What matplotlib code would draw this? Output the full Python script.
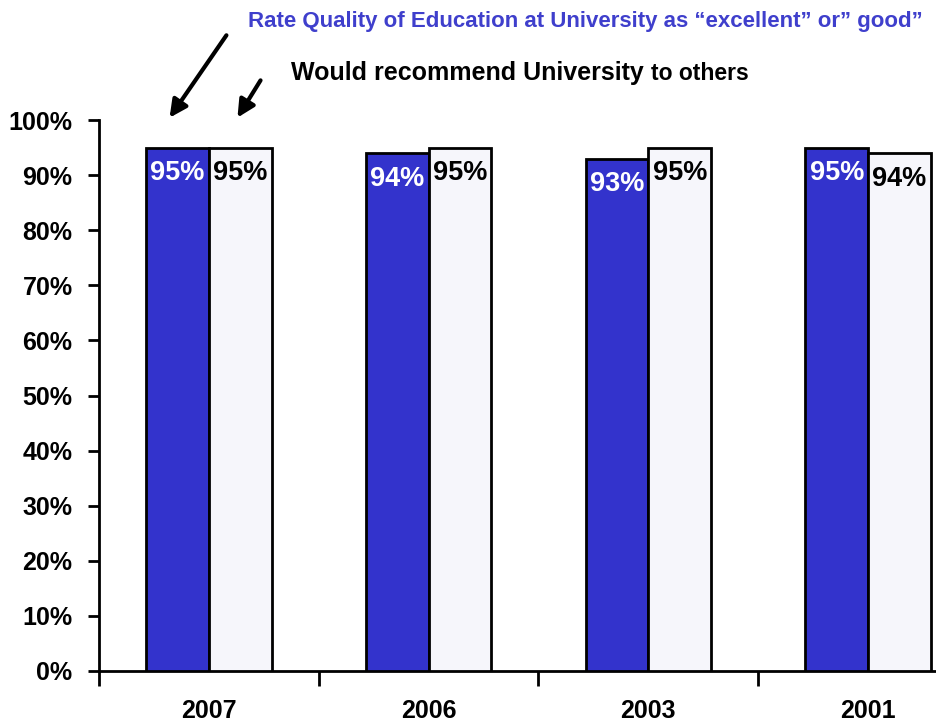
import matplotlib
matplotlib.use("Agg")
import matplotlib.pyplot as plt
from matplotlib.patches import FancyArrowPatch
import numpy as np

categories = ['2007', '2006', '2003', '2001']
quality = [95, 94, 93, 95]
recommend = [95, 95, 95, 94]
yticks = [0, 10, 20, 30, 40, 50, 60, 70, 80, 90, 100]

plt.rcParams['font.family'] = ['Liberation Sans', 'DejaVu Sans']
plt.rcParams['font.weight'] = 'bold'

W, H = 937, 723
fig = plt.figure(figsize=(W / 100, H / 100), dpi=100)
ax = fig.add_axes([99 / W, 52 / H, 879 / W, 551 / H])

blue = '#3333CC'
white = '#F6F6FB'
bw = 0.285
x = np.arange(len(categories)) + 0.5
b1 = ax.bar(x - bw, quality, width=bw, align='edge', color=blue,
            edgecolor='black', linewidth=2, zorder=3)
b2 = ax.bar(x, recommend, width=bw, align='edge', color=white,
            edgecolor='black', linewidth=2, zorder=3)

for rect, v in zip(b1, quality):
    ax.annotate(f'{v}%', (rect.get_x() + rect.get_width() / 2, v),
                xytext=(0, -18.5), textcoords='offset points',
                ha='center', va='center', color='white',
                fontsize=19.5, fontweight='bold', zorder=4)
for rect, v in zip(b2, recommend):
    ax.annotate(f'{v}%', (rect.get_x() + rect.get_width() / 2, v),
                xytext=(0, -18.5), textcoords='offset points',
                ha='center', va='center', color='black',
                fontsize=19.5, fontweight='bold', zorder=4)

ax.set_xlim(0, 4)
ax.set_ylim(0, 100)
ax.set_yticks(yticks)
ax.set_yticklabels([f'{t}%' for t in yticks])
ax.set_xticks(x)
ax.set_xticklabels(categories)
ax.set_xticks(np.arange(0, 5), minor=True)
ax.tick_params(axis='x', which='major', length=0, pad=20, labelsize=18)
ax.tick_params(axis='x', which='minor', length=11, width=2, direction='out')
ax.tick_params(axis='y', length=8, width=2, direction='out', pad=11, labelsize=18)

for s in ['top', 'right']:
    ax.spines[s].set_visible(False)
for s in ['left', 'bottom']:
    ax.spines[s].set_linewidth(2)

fig.text(248 / W, 1 - 22 / H,
         'Rate Quality of Education at University as \u201cexcellent\u201d or\u201d good\u201d',
         color='#3F3FCC', fontsize=16, fontweight='bold', ha='left', va='center')
t1 = fig.text(291 / W, 1 - 73 / H, 'Would recommend University ',
              color='black', fontsize=18, fontweight='bold', ha='left', va='center')
fig.canvas.draw()
bb = t1.get_window_extent()
fig.text(bb.x1 / W, 1 - 74 / H, 'to others', color='black', fontsize=16.5,
         fontweight='bold', ha='left', va='center')

def arrow(x0, y0, x1, y1):
    a = FancyArrowPatch((x0 / W, 1 - y0 / H), (x1 / W, 1 - y1 / H),
                        transform=fig.transFigure, arrowstyle='-|>',
                        mutation_scale=26, linewidth=3, color='black')
    fig.add_artist(a)

arrow(228, 33, 168, 120)
arrow(262, 78, 236, 120)

fig.savefig('out.png', dpi=100)
